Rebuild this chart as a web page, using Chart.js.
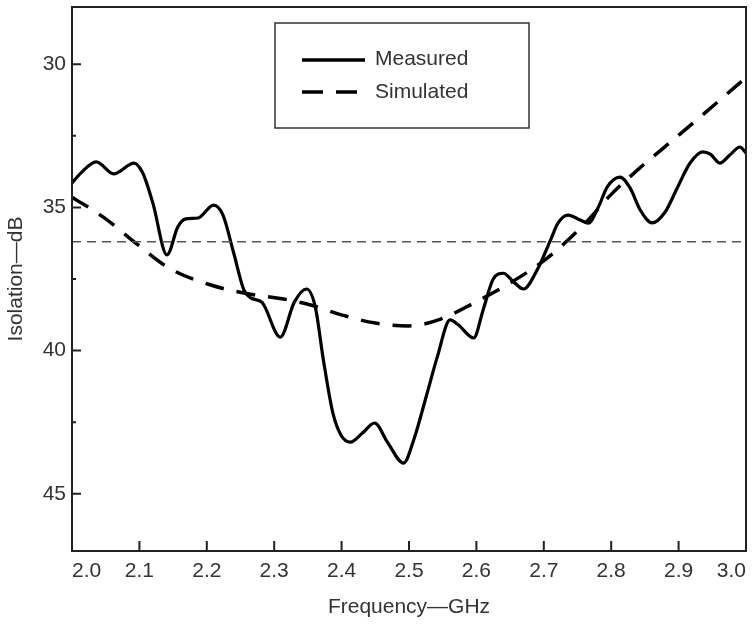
<!DOCTYPE html>
<html>
<head>
<meta charset="utf-8">
<script src="https://cdn.jsdelivr.net/npm/chart.js@4"></script>
<style>
  html, body { margin: 0; padding: 0; background: #fff; }
</style>
</head>
<body>
<canvas id="isoChart" width="752" height="626"></canvas>
<script>
// ---- data ----
var freqMeasured = [2.000, 2.013, 2.036, 2.062, 2.092, 2.105, 2.120, 2.141, 2.157, 2.169, 2.187, 2.210, 2.224, 2.240,
  2.255, 2.265, 2.282, 2.309, 2.330, 2.348, 2.361, 2.373, 2.387, 2.399, 2.413, 2.431, 2.449, 2.468, 2.492, 2.507,
  2.527, 2.542, 2.561, 2.573, 2.596, 2.610, 2.625, 2.640, 2.655, 2.670, 2.690, 2.710, 2.721, 2.736, 2.754, 2.766,
  2.781, 2.794, 2.813, 2.828, 2.843, 2.861, 2.880, 2.898, 2.917, 2.936, 2.947, 2.961, 2.976, 2.991, 3.000];
var isoMeasured = [34.15, 33.80, 33.41, 33.83, 33.45, 33.80, 34.85, 36.66, 35.68, 35.40, 35.37, 34.92, 35.27, 36.60,
  37.88, 38.16, 38.32, 39.53, 38.30, 37.85, 38.48, 40.33, 42.18, 42.95, 43.20, 42.88, 42.53, 43.20, 43.93, 43.12,
  41.48, 40.22, 38.93, 39.10, 39.56, 38.58, 37.50, 37.30, 37.60, 37.85, 37.19, 36.14, 35.55, 35.27, 35.44, 35.55,
  34.99, 34.29, 33.94, 34.32, 35.09, 35.54, 35.16, 34.32, 33.45, 33.06, 33.14, 33.45, 33.17, 32.89, 33.10];

var freqSimulated = [2.000, 2.046, 2.098, 2.144, 2.206, 2.255, 2.314, 2.354, 2.401, 2.450, 2.499, 2.547, 2.596,
  2.650, 2.705, 2.759, 2.799, 2.844, 2.895, 2.944, 2.991, 3.000];
var isoSimulated = [34.64, 35.33, 36.31, 37.12, 37.71, 37.99, 38.20, 38.41, 38.76, 39.04, 39.14, 38.90, 38.34,
  37.64, 36.77, 35.61, 34.57, 33.59, 32.58, 31.60, 30.65, 30.48];

// horizontal reference level
var refFreq = [2.0, 3.0];
var refLevel = [36.2, 36.2];

var freqTicks = [2.0, 2.1, 2.2, 2.3, 2.4, 2.5, 2.6, 2.7, 2.8, 2.9, 3.0];
var isoTicks = [30, 35, 40, 45];
var isoMinorTicks = [32.5, 37.5, 42.5];

var seriesNames = ['Measured', 'Simulated'];

function zip(xs, ys) {
  return xs.map(function (x, i) { return { x: x, y: ys[i] }; });
}

var FONT = "'Liberation Sans', Arial, Helvetica, sans-serif";
var FSIZE = 21;
var INK = '#222';

// box around the plot, inward tick marks and the boxed legend
var framePlugin = {
  id: 'frame',
  afterDraw: function (chart) {
    var ctx = chart.ctx;
    var a = chart.chartArea;
    var xs = chart.scales.x, ys = chart.scales.y;
    ctx.save();
    ctx.strokeStyle = INK;
    ctx.lineWidth = 2;
    ctx.strokeRect(a.left, a.top, a.right - a.left, a.bottom - a.top);

    ctx.beginPath();
    freqTicks.forEach(function (v) {
      var px = xs.getPixelForValue(v);
      ctx.moveTo(px, a.bottom);
      ctx.lineTo(px, a.bottom - 10);
    });
    isoTicks.forEach(function (v) {
      var py = ys.getPixelForValue(v);
      ctx.moveTo(a.left, py);
      ctx.lineTo(a.left + 9, py);
    });
    isoMinorTicks.forEach(function (v) {
      var py = ys.getPixelForValue(v);
      ctx.moveTo(a.left, py);
      ctx.lineTo(a.left + 4, py);
    });
    ctx.stroke();

    // legend
    var bx = 275, by = 23, bw = 254, bh = 105;
    ctx.fillStyle = '#fff';
    ctx.fillRect(bx, by, bw, bh);
    ctx.lineWidth = 1.5;
    ctx.strokeStyle = '#333';
    ctx.strokeRect(bx, by, bw, bh);

    ctx.strokeStyle = '#000';
    ctx.lineWidth = 3.5;
    ctx.beginPath();
    ctx.moveTo(302, 60);
    ctx.lineTo(365, 60);
    ctx.stroke();
    ctx.setLineDash([21, 13]);
    ctx.beginPath();
    ctx.moveTo(302, 92);
    ctx.lineTo(365, 92);
    ctx.stroke();
    ctx.setLineDash([]);

    ctx.fillStyle = '#333';
    ctx.font = FSIZE + 'px ' + FONT;
    ctx.textAlign = 'left';
    ctx.textBaseline = 'middle';
    ctx.fillText(seriesNames[0], 375, 59);
    ctx.fillText(seriesNames[1], 375, 92);
    ctx.restore();
  }
};

var ctx = document.getElementById('isoChart').getContext('2d');
var isoChart = new Chart(ctx, {
  type: 'line',
  data: {
    datasets: [
      {
        label: 'ref',
        data: zip(refFreq, refLevel),
        borderColor: '#555',
        borderWidth: 1.5,
        borderDash: [9, 6],
        pointRadius: 0,
        fill: false
      },
      {
        label: seriesNames[1],
        data: zip(freqSimulated, isoSimulated),
        borderColor: '#000',
        borderWidth: 3.5,
        borderDash: [19, 13],
        pointRadius: 0,
        cubicInterpolationMode: 'monotone',
        fill: false
      },
      {
        label: seriesNames[0],
        data: zip(freqMeasured, isoMeasured),
        borderColor: '#000',
        borderWidth: 3.2,
        pointRadius: 0,
        cubicInterpolationMode: 'monotone',
        fill: false
      }
    ]
  },
  options: {
    responsive: false,
    animation: false,
    layout: { padding: { top: 7, right: 6, left: 0, bottom: 0 } },
    plugins: {
      legend: { display: false },
      tooltip: { enabled: false }
    },
    scales: {
      x: {
        type: 'linear',
        min: 2.0,
        max: 3.0,
        afterBuildTicks: function (s) {
          s.ticks = freqTicks.map(function (v) { return { value: v }; });
        },
        afterFit: function (s) {
          s.height = 75;
          s.paddingLeft = 0;
          s.paddingRight = 0;
        },
        grid: { display: false, drawTicks: false },
        border: { display: false },
        ticks: {
          align: 'inner',
          maxRotation: 0,
          autoSkip: false,
          padding: 8,
          color: '#333',
          font: { family: FONT, size: FSIZE },
          callback: function (v) { return Number(v).toFixed(1); }
        },
        title: {
          display: true,
          text: 'Frequency\u2014GHz',
          color: '#333',
          font: { family: FONT, size: FSIZE },
          padding: { top: 0, bottom: 6 }
        }
      },
      y: {
        type: 'linear',
        min: 28,
        max: 47,
        reverse: true,
        afterBuildTicks: function (s) {
          s.ticks = isoTicks.map(function (v) { return { value: v }; });
        },
        afterFit: function (s) {
          s.width = 72;
          s.paddingTop = 0;
          s.paddingBottom = 0;
        },
        grid: { display: false, drawTicks: false },
        border: { display: false },
        ticks: {
          padding: 6,
          color: '#333',
          font: { family: FONT, size: FSIZE }
        },
        title: {
          display: true,
          text: 'Isolation\u2014dB',
          color: '#333',
          font: { family: FONT, size: FSIZE },
          padding: { top: 4, bottom: 0 }
        }
      }
    }
  },
  plugins: [framePlugin]
});
</script>
</body>
</html>
